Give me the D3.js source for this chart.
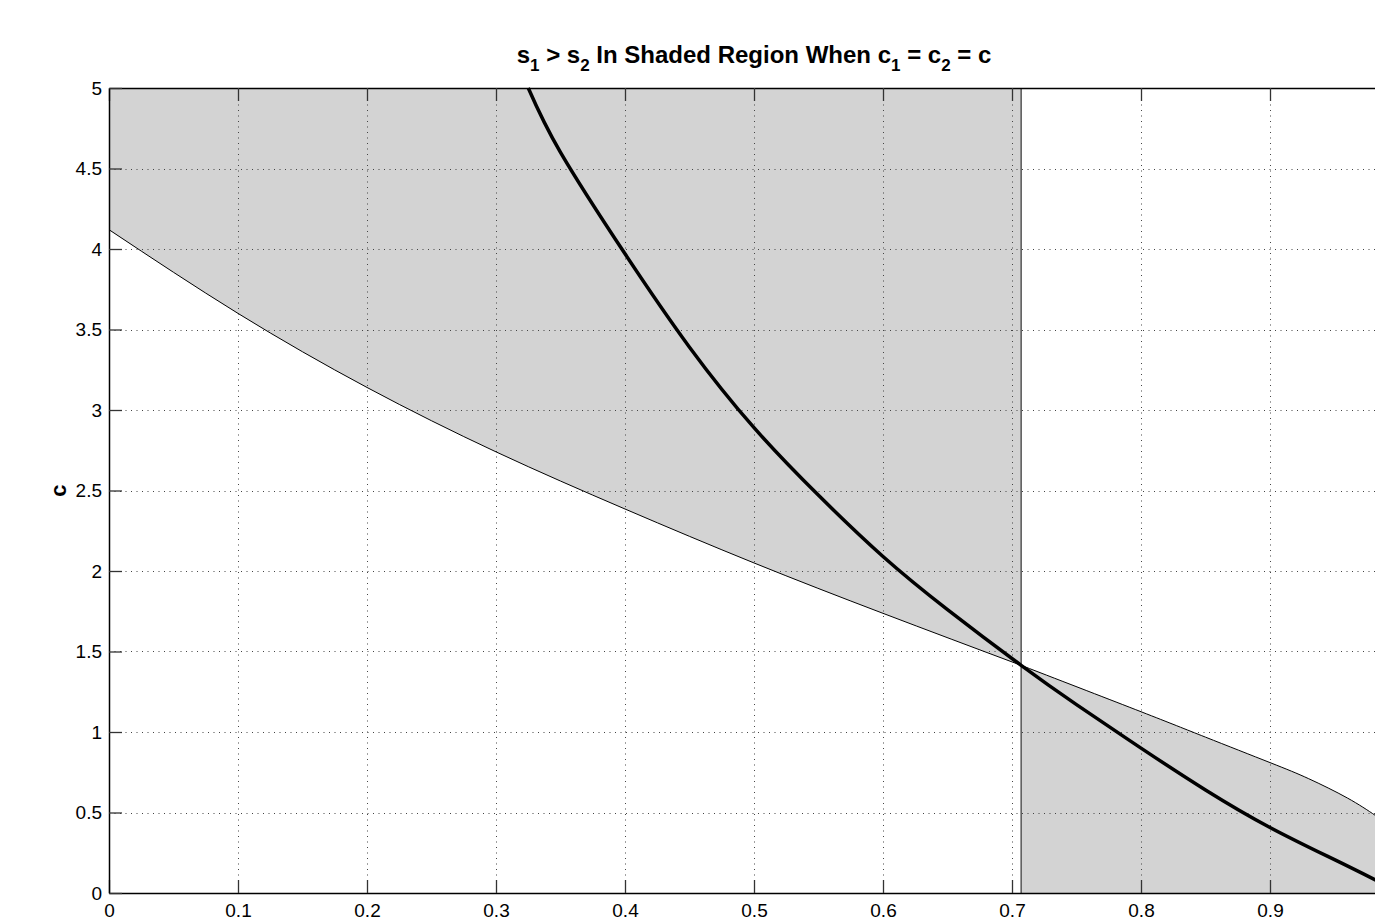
<!DOCTYPE html>
<html>
<head>
<meta charset="utf-8">
<script src="https://cdn.jsdelivr.net/npm/d3@7"></script>
<style>
  body { margin: 0; background: #fff; }
  text { font-family: "Liberation Sans", Arial, Helvetica, sans-serif; }
</style>
</head>
<body>
<svg id="chart"></svg>
<script>
const MARGIN = {
  left: 109,
  right: -24, // axes run past the window edge, x = 1 sits at 1399
  top: 88,
  bottom: 29
}
const SIZE = {
  width: 1375,
  height: 922,
}

// boundary curve (thin line)
const boundaryX = [0, 0.1, 0.2, 0.3, 0.4, 0.5, 0.6, 0.7071, 0.8, 0.85, 0.9, 0.93, 0.96, 0.982];
const boundaryC = [4.12, 3.6, 3.14, 2.74, 2.385, 2.05, 1.737, 1.414, 1.126, 0.968, 0.81, 0.71, 0.59, 0.48];

// heavy curve
const curveX = [0.325, 0.35, 0.4, 0.45, 0.5, 0.55, 0.6, 0.65, 0.7071, 0.75, 0.8, 0.85, 0.9, 0.95, 0.982];
const curveC = [5.0, 4.6, 3.97, 3.39, 2.89, 2.47, 2.09, 1.76, 1.414, 1.17, 0.9, 0.64, 0.407, 0.207, 0.08];

const splitX = 0.7071;
const xTicks = [0, 0.1, 0.2, 0.3, 0.4, 0.5, 0.6, 0.7, 0.8, 0.9, 1];
const yTicks = [0, 0.5, 1, 1.5, 2, 2.5, 3, 3.5, 4, 4.5, 5];

const boundary = boundaryX.map((x, i) => ({x: x, c: boundaryC[i]}));
const curve = curveX.map((x, i) => ({x: x, c: curveC[i]}));

const svg = d3.select("svg#chart")
  .attr("width", SIZE.width)
  .attr("height", SIZE.height);

const xScale = d3.scaleLinear().domain([0, 1]).range([MARGIN.left, SIZE.width - MARGIN.right]);
const yScale = d3.scaleLinear().domain([0, 5]).range([SIZE.height - MARGIN.bottom, MARGIN.top]);

const x0 = xScale(0), x1 = xScale(1), y0 = yScale(0), y1 = yScale(5);

// shaded regions: above the boundary left of the split, below it to the right
const leftPart = boundary.filter(d => d.x <= splitX);
const rightPart = boundary.filter(d => d.x >= splitX);
const areaAbove = d3.area().x(d => xScale(d.x)).y0(yScale(5)).y1(d => yScale(d.c)).curve(d3.curveNatural);
const areaBelow = d3.area().x(d => xScale(d.x)).y0(yScale(0)).y1(d => yScale(d.c)).curve(d3.curveNatural);

svg.append("path").attr("d", areaAbove(leftPart)).attr("fill", "#d3d3d3");
svg.append("path").attr("d", areaBelow(rightPart)).attr("fill", "#d3d3d3");

// dotted grid
const grid = svg.append("g").attr("class", "grid")
  .attr("stroke", "#444")
  .attr("stroke-width", 1)
  .attr("stroke-dasharray", "1,4.5");
grid.selectAll(".gx").data(xTicks.slice(1, -1)).enter().append("line")
  .attr("x1", d => Math.round(xScale(d)) + 0.5)
  .attr("x2", d => Math.round(xScale(d)) + 0.5)
  .attr("y1", y1).attr("y2", y0);
grid.selectAll(".gy").data(yTicks.slice(1, -1)).enter().append("line")
  .attr("x1", x0).attr("x2", x1)
  .attr("y1", d => Math.round(yScale(d)) + 0.5)
  .attr("y2", d => Math.round(yScale(d)) + 0.5);

// split line
svg.append("line")
  .attr("x1", xScale(splitX)).attr("x2", xScale(splitX))
  .attr("y1", y1).attr("y2", y0)
  .attr("stroke", "#555")
  .attr("stroke-width", 1.5);

const line = d3.line().x(d => xScale(d.x)).y(d => yScale(d.c)).curve(d3.curveNatural);

// the boundary is drawn in two pieces so the spline meets the split exactly
svg.append("path")
  .attr("d", line(leftPart) + line(rightPart))
  .attr("fill", "none")
  .attr("stroke", "#000")
  .attr("stroke-width", 1);

svg.append("path")
  .attr("d", line(curve))
  .attr("fill", "none")
  .attr("stroke", "#000")
  .attr("stroke-width", 3.5);

// axes, ticks pointing inward like the original; the "1" label is off-screen
const fmt = d => d === 1 ? "" : d3.format("~g")(d);
const xAxis = d3.axisBottom(xScale).tickValues(xTicks).tickSizeInner(-13).tickSizeOuter(0).tickPadding(11)
  .tickFormat(fmt);
svg.append("g").attr("class", "x-axis").attr("transform", `translate(0, ${y0})`).call(xAxis);
const xTop = d3.axisTop(xScale).tickValues(xTicks).tickSizeInner(-13).tickSizeOuter(0).tickFormat("");
svg.append("g").attr("transform", `translate(0, ${y1})`).call(xTop);

const yAxis = d3.axisLeft(yScale).tickValues(yTicks).tickSizeInner(-13).tickSizeOuter(0).tickPadding(7)
  .tickFormat(d3.format("~g"));
svg.append("g").attr("class", "y-axis").attr("transform", `translate(${x0}, 0)`).call(yAxis);
svg.append("g").attr("transform", `translate(${x1}, 0)`)
  .call(d3.axisRight(yScale).tickValues(yTicks).tickSizeInner(-13).tickSizeOuter(0).tickFormat(""));

svg.selectAll(".domain").attr("stroke", "#000").attr("stroke-width", 1.5);
svg.selectAll(".tick line").attr("stroke", "#333").attr("stroke-width", 1.3);
svg.selectAll(".tick text")
  .attr("font-size", 19)
  .attr("fill", "#000")
  .style("font-family", "'Liberation Sans', Arial, sans-serif");

// title with subscripts
const title = svg.append("text")
  .attr("x", xScale(0.5))
  .attr("y", 63)
  .attr("text-anchor", "middle")
  .attr("font-weight", "bold")
  .attr("font-size", 24);
const parts = [["s", ""], ["1", "sub"], [" > s", ""], ["2", "sub"], [" In Shaded Region When c", ""], ["1", "sub"], [" = c", ""], ["2", "sub"], [" = c", ""]];
let lowered = false;
parts.forEach(p => {
  const t = title.append("tspan").text(p[0]);
  if (p[1] === "sub") {
    t.attr("font-size", 17).attr("dy", 8);
    lowered = true;
  } else if (lowered) {
    t.attr("dy", -8);
    lowered = false;
  }
});

svg.append("text")
  .attr("transform", `translate(66, ${yScale(2.5)}) rotate(-90)`)
  .attr("text-anchor", "middle")
  .attr("font-weight", "bold")
  .attr("font-size", 22)
  .text("c");
</script>
</body>
</html>
